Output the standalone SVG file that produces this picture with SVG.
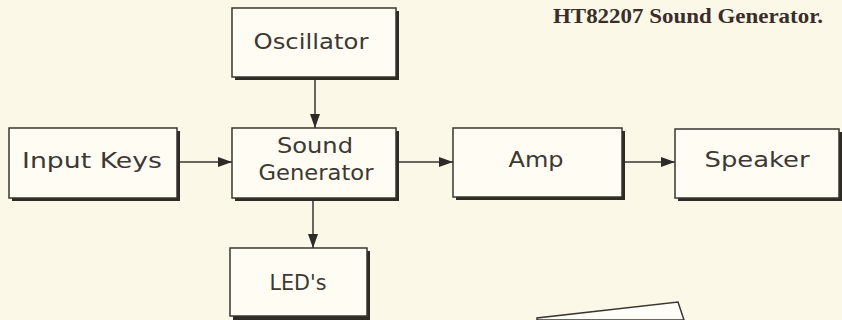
<svg xmlns="http://www.w3.org/2000/svg" width="842" height="320" viewBox="0 0 842 320">
<defs>
<style>
.bg{fill:#fbf8e8}
.shadow{fill:#2e2a26}
.box{fill:#fffdf3;stroke:#3a3530;stroke-width:1.5}
.lbl{font-family:"DejaVu Sans","Liberation Sans",sans-serif;font-size:21px;fill:#3d3833;text-anchor:middle}
.cap{font-family:"Liberation Serif","DejaVu Serif",serif;font-weight:bold;font-size:22px;fill:#3a2e2a}
.conn{stroke:#3a3530;stroke-width:1.5;fill:none}
</style>
<marker id="ah" viewBox="0 0 14 10" refX="14" refY="5" markerWidth="14" markerHeight="10" markerUnits="userSpaceOnUse" orient="auto">
<path d="M0,0 L14,5 L0,10 Z" fill="#2e2a26"/>
</marker>
</defs>
<rect class="bg" x="0" y="0" width="842" height="320"/>
<text class="cap" x="553" y="23" textLength="270" lengthAdjust="spacingAndGlyphs">HT82207 Sound Generator.</text>
<polygon points="537,320 537,318 678,302 684,320" fill="#fffef8" stroke="#3a3530" stroke-width="1.5"/>
<g id="connectors">
<line class="conn" x1="315" y1="77" x2="315" y2="128" marker-end="url(#ah)"/>
<line class="conn" x1="313" y1="198" x2="313" y2="248" marker-end="url(#ah)"/>
<line class="conn" x1="178" y1="162" x2="232" y2="162" marker-end="url(#ah)"/>
<line class="conn" x1="398" y1="162" x2="453" y2="162" marker-end="url(#ah)"/>
<line class="conn" x1="623" y1="162" x2="675" y2="162" marker-end="url(#ah)"/>
</g>
<g id="oscillator">
<rect class="shadow" x="235" y="11" width="164" height="69"/>
<rect class="box" x="232" y="8" width="164" height="69"/>
<text class="lbl" x="311" y="49" textLength="115" lengthAdjust="spacingAndGlyphs">Oscillator</text>
</g>
<g id="input-keys">
<rect class="shadow" x="12" y="131" width="168" height="70"/>
<rect class="box" x="9" y="128" width="168" height="70"/>
<text class="lbl" x="92" y="168" textLength="140" lengthAdjust="spacingAndGlyphs">Input  Keys</text>
</g>
<g id="sound-generator">
<rect class="shadow" x="235" y="131" width="164" height="70"/>
<rect class="box" x="232" y="128" width="164" height="70"/>
<text class="lbl" x="315" y="153" textLength="76" lengthAdjust="spacingAndGlyphs">Sound</text>
<text class="lbl" x="316" y="180" textLength="115" lengthAdjust="spacingAndGlyphs">Generator</text>
</g>
<g id="amp">
<rect class="shadow" x="456" y="131" width="169" height="69"/>
<rect class="box" x="453" y="128" width="169" height="69"/>
<text class="lbl" x="536" y="167" textLength="55" lengthAdjust="spacingAndGlyphs">Amp</text>
</g>
<g id="speaker">
<rect class="shadow" x="678" y="132" width="164" height="69"/>
<rect class="box" x="675" y="129" width="164" height="69"/>
<text class="lbl" x="757" y="167" textLength="105" lengthAdjust="spacingAndGlyphs">Speaker</text>
</g>
<g id="leds">
<rect class="shadow" x="233" y="251" width="137" height="69"/>
<rect class="box" x="230" y="248" width="137" height="68"/>
<text class="lbl" x="298" y="290" textLength="57" lengthAdjust="spacingAndGlyphs">LED's</text>
</g>
</svg>
